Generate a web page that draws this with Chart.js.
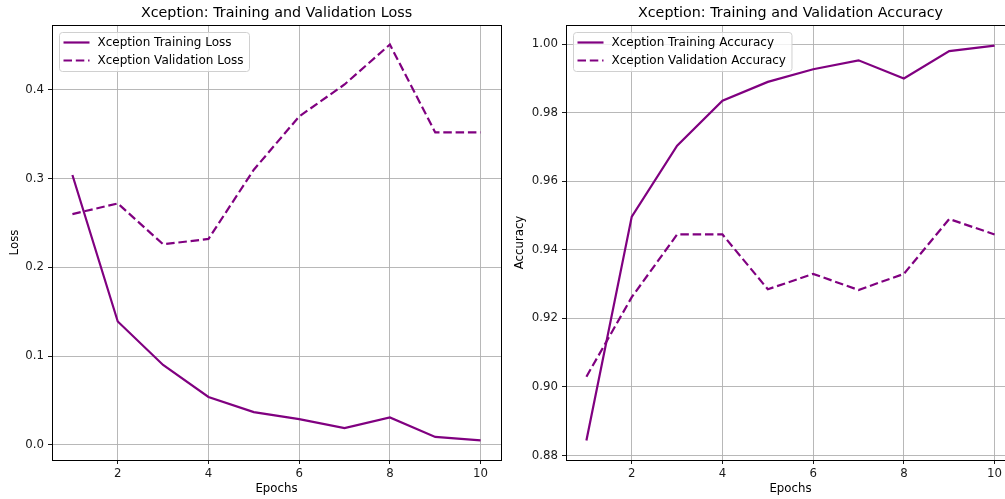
<!DOCTYPE html>
<html>
<head>
<meta charset="utf-8">
<script src="https://cdn.jsdelivr.net/npm/chart.js@4.4.0/dist/chart.umd.min.js"></script>
<style>
  body { margin: 0; background: #fff; overflow: hidden; width: 1005px; height: 499px; position: relative; }
  canvas { position: absolute; top: 0; }
  #lossChart { left: 0; }
  #accChart { left: 505px; }
</style>
</head>
<body>
<canvas id="lossChart" width="505" height="499"></canvas>
<canvas id="accChart" width="520" height="499"></canvas>
<script>

const epochs = [1, 2, 3, 4, 5, 6, 7, 8, 9, 10];

const trainLoss = [0.304, 0.139, 0.090, 0.054, 0.037, 0.029, 0.019, 0.031, 0.009, 0.005];
const valLoss   = [0.260, 0.272, 0.226, 0.232, 0.310, 0.370, 0.406, 0.451, 0.352, 0.352];

const trainAcc = [0.8844, 0.9497, 0.9704, 0.9835, 0.9890, 0.9927, 0.9953, 0.9900, 0.9980, 0.9996];
const valAcc   = [0.9030, 0.9262, 0.9445, 0.9445, 0.9285, 0.9330, 0.9283, 0.9330, 0.9490, 0.9445];

const epochTicks = [2, 4, 6, 8, 10];
const lossTicks = [0.0, 0.1, 0.2, 0.3, 0.4];
const accTicks = [0.88, 0.90, 0.92, 0.94, 0.96, 0.98, 1.00];

const PURPLE = '#800080';
const FONT = 'DejaVu Sans';

Chart.defaults.font.family = FONT;
Chart.defaults.color = '#1a1a1a';

function points(ys){
  return epochs.map((e, i) => ({ x: e, y: ys[i] }));
}

// title, full frame and an in-plot legend like matplotlib
const mplPlugin = {
  id: 'mpl',
  afterDraw(chart, args, opts){
    const ctx = chart.ctx;
    const a = chart.chartArea;

    ctx.save();

    // frame
    ctx.strokeStyle = '#000';
    ctx.lineWidth = 1;
    ctx.setLineDash([]);
    ctx.strokeRect(Math.round(a.left) + 0.5, Math.round(a.top) + 0.5,
      Math.round(a.right - a.left), Math.round(a.bottom - a.top));

    // title
    ctx.fillStyle = '#000';
    ctx.font = '14.3px "' + FONT + '"';
    ctx.textAlign = 'center';
    ctx.textBaseline = 'middle';
    ctx.fillText(opts.title, (a.left + a.right) / 2, 13);

    // legend
    ctx.font = '12px "' + FONT + '"';
    const sets = chart.data.datasets;
    const w = Math.max(...sets.map(d => ctx.measureText(d.label).width));
    const x0 = a.left + 7.5, y0 = a.top + 7.5;
    const bw = 38 + w + 6, bh = 39;

    ctx.beginPath();
    ctx.roundRect(x0, y0, bw, bh, 3);
    ctx.fillStyle = 'rgba(255,255,255,0.8)';
    ctx.fill();
    ctx.strokeStyle = '#d0d0d0';
    ctx.lineWidth = 1;
    ctx.stroke();

    sets.forEach((d, i) => {
      const y = y0 + 10 + i * 18;
      ctx.beginPath();
      ctx.setLineDash(d.borderDash || []);
      ctx.strokeStyle = d.borderColor;
      ctx.lineWidth = d.borderWidth;
      ctx.moveTo(x0 + 4, y);
      ctx.lineTo(x0 + 30, y);
      ctx.stroke();
      ctx.setLineDash([]);
      ctx.fillStyle = '#000';
      ctx.textAlign = 'left';
      ctx.fillText(d.label, x0 + 38, y + 0.5);
    });

    ctx.restore();
  }
};

function makeChart(id, cfg){

  const ctx = document.getElementById(id);

  return new Chart(ctx, {

    type: 'line',

    data: {
      datasets: [
        {
          label: cfg.trainLabel,
          data: points(cfg.train),
          borderColor: PURPLE,
          borderWidth: 2.2,
          pointRadius: 0,
          tension: 0,
          fill: false
        },
        {
          label: cfg.valLabel,
          data: points(cfg.val),
          borderColor: PURPLE,
          borderWidth: 2.2,
          borderDash: [8.5, 3.8],
          pointRadius: 0,
          tension: 0,
          fill: false
        }
      ]
    },

    options: {
      responsive: false,
      animation: false,
      devicePixelRatio: 1,
      layout: {
        padding: { top: 25, right: cfg.padRight, bottom: 0, left: 0 }
      },
      plugins: {
        legend: { display: false },
        tooltip: { enabled: false },
        mpl: { title: cfg.title }
      },
      scales: {
        x: {
          type: 'linear',
          min: 0.55,
          max: 10.45,
          afterFit(scale){ scale.height = 39; },
          afterBuildTicks(scale){ scale.ticks = epochTicks.map(v => ({ value: v })); },
          ticks: {
            font: { size: 11.75 },
            padding: 3,
            maxRotation: 0,
            callback: v => String(v)
          },
          grid: {
            color: '#b0b0b0',
            lineWidth: 0.9,
            tickColor: '#000',
            tickLength: 4
          },
          border: { display: false },
          title: {
            display: true,
            text: 'Epochs',
            font: { size: 11.75 },
            color: '#000',
            padding: { top: 2, bottom: 3 }
          }
        },
        y: {
          min: cfg.yMin,
          max: cfg.yMax,
          afterFit(scale){ scale.width = cfg.yWidth; },
          afterBuildTicks(scale){ scale.ticks = cfg.ticks.map(v => ({ value: v })); },
          ticks: {
            font: { size: 11.75 },
            padding: 4,
            callback: v => v.toFixed(cfg.digits)
          },
          grid: {
            color: '#b0b0b0',
            lineWidth: 0.9,
            tickColor: '#000',
            tickLength: 4
          },
          border: { display: false },
          title: {
            display: true,
            text: cfg.yLabel,
            font: { size: 11.75 },
            color: '#000',
            padding: { top: 8, bottom: 4 }
          }
        }
      }
    },

    plugins: [mplPlugin]

  });

}

makeChart('lossChart', {
  title: 'Xception: Training and Validation Loss',
  trainLabel: 'Xception Training Loss',
  valLabel: 'Xception Validation Loss',
  train: trainLoss,
  val: valLoss,
  ticks: lossTicks,
  digits: 1,
  yLabel: 'Loss',
  yMin: -0.017,
  yMax: 0.473,
  yWidth: 52,
  padRight: 4
});

makeChart('accChart', {
  title: 'Xception: Training and Validation Accuracy',
  trainLabel: 'Xception Training Accuracy',
  valLabel: 'Xception Validation Accuracy',
  train: trainAcc,
  val: valAcc,
  ticks: accTicks,
  digits: 2,
  yLabel: 'Accuracy',
  yMin: 0.8787,
  yMax: 1.0056,
  yWidth: 61,
  padRight: 10
});

</script>
</body>
</html>
